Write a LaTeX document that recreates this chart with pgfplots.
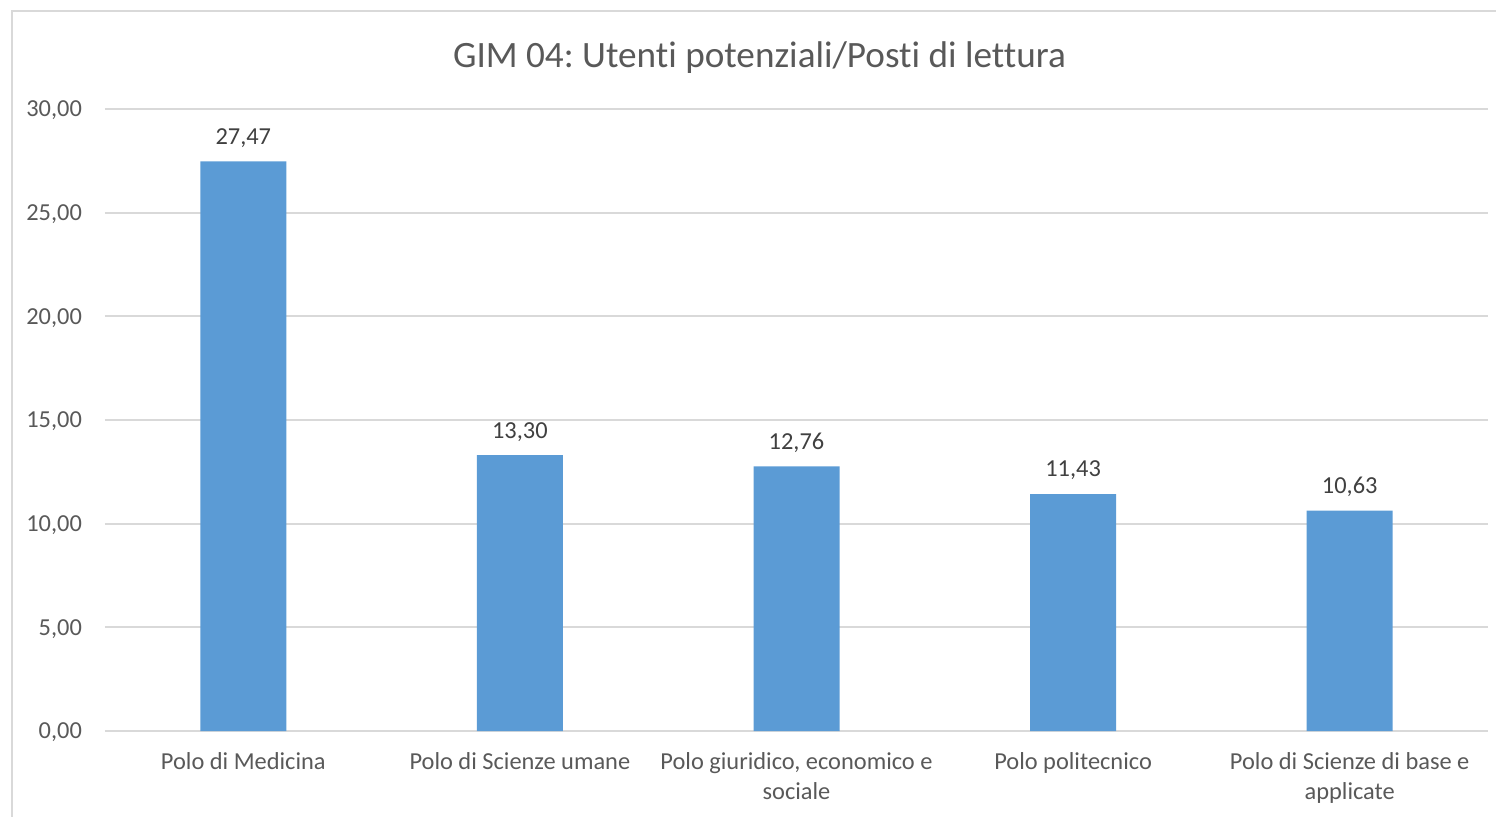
\documentclass[border=0pt]{standalone}
\usepackage{pgfplots}
\pgfplotsset{compat=1.18}
\usepackage{fontspec}
\setmainfont{Carlito}[Ligatures=NoCommon]
\frenchspacing
\definecolor{barblue}{HTML}{5B9BD5}
\definecolor{gridgray}{HTML}{D9D9D9}
\definecolor{txtgray}{HTML}{595959}
\definecolor{lblgray}{HTML}{404040}
\begin{document}
\frenchspacing
\begin{tikzpicture}[x=1pt,y=1pt]
\useasboundingbox (0,0) rectangle (748,408);
\draw[gridgray, line width=1pt] (6,-10) rectangle (760,402.5);
\node[text=txtgray, font=\fontsize{18.6}{22}\selectfont] at (379.75,379) {GIM 04: Utenti potenziali/Posti di lettura};
\begin{axis}[
  at={(52.5pt,42.5pt)}, anchor=south west,
  scale only axis, width=691.5pt, height=311pt,
  xmin=-0.5, xmax=4.5, ymin=0, ymax=30,
  ybar, bar width=43pt,
  axis line style={draw=none},
  ymajorgrids, grid style={gridgray, line width=1pt},
  major tick length=0pt,
  ytick={0,5,...,30},
  xtick={0,1,2,3,4},
  xticklabels={Polo di Medicina, Polo di Scienze umane, {Polo giuridico, economico e\\sociale}, Polo politecnico, {Polo di Scienze di base e\\applicate}},
  xticklabel style={align=center, text=txtgray, font=\fontsize{12.2}{15}\selectfont, yshift=-7pt},
  yticklabel style={text=txtgray, font=\fontsize{12.2}{15}\selectfont, xshift=-8pt, yshift=-0.8pt},
  /pgf/number format/.cd, use comma, fixed, fixed zerofill, precision=2, 1000 sep={}, assume math mode=true,
  /pgfplots/.cd,
  nodes near coords,
  every node near coord/.append style={text=lblgray, font=\fontsize{12.2}{15}\selectfont, anchor=south, yshift=3.5pt},
]
\addplot[fill=barblue, draw=none] coordinates {(0,27.47) (1,13.30) (2,12.76) (3,11.43) (4,10.63)};
\end{axis}
\end{tikzpicture}
\end{document}
